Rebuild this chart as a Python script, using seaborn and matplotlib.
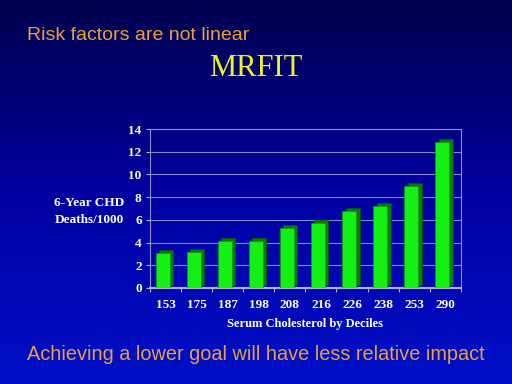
import numpy as np
import pandas as pd
import matplotlib
matplotlib.use("Agg")
import matplotlib.pyplot as plt
from matplotlib.transforms import Affine2D
from matplotlib.colors import LinearSegmentedColormap
import seaborn as sns

deciles = ["153", "175", "187", "198", "208", "216", "226", "238", "253", "290"]
deaths = [3.1, 3.2, 4.1, 4.1, 5.3, 5.7, 6.8, 7.2, 9.0, 12.9]
yticks = [0, 2, 4, 6, 8, 10, 12, 14]

df = pd.DataFrame({"decile": deciles, "deaths": deaths})

sns.set_theme(style="white")
plt.rcParams["font.family"] = ["Liberation Serif", "DejaVu Serif"]

fig = plt.figure(figsize=(5.12, 3.84), dpi=100)

# gradient background
bg = fig.add_axes([0, 0, 1, 1], zorder=-10)
grad = np.linspace(0, 1, 256).reshape(-1, 1)
cmap = LinearSegmentedColormap.from_list("bg", ["#00004e", "#0000a0", "#0010c8"])
bg.imshow(grad, aspect="auto", cmap=cmap, extent=[0, 1, 0, 1], origin="upper")
bg.set_axis_off()

ax = fig.add_axes([0.293, 0.25, 0.607, 0.414])
ax.set_facecolor("none")

# shadow (3D side) bars
sns.barplot(data=df, x="decile", y="deaths", color="#0a7a0a", width=0.45,
            saturation=1, ax=ax, zorder=3)
n_shadow = len(ax.patches)
for p in ax.patches:
    p.set_transform(ax.transData + Affine2D().translate(0.5, 3))
    p.set_edgecolor("#055505")
    p.set_linewidth(0.5)
# front bars
sns.barplot(data=df, x="decile", y="deaths", color="#14f014", width=0.45,
            saturation=1, ax=ax, zorder=4)
for p in ax.patches[n_shadow:]:
    p.set_transform(ax.transData + Affine2D().translate(-3, 0))
    p.set_edgecolor("#0a9a0a")
    p.set_linewidth(0.5)

ax.set_xlim(-0.5, 9.5)
ax.set_ylim(0, 14)
ax.set_yticks(yticks)
ax.set_yticklabels([str(v) for v in yticks])
ax.yaxis.grid(True, color="#8888c8", linewidth=0.8, zorder=0)
ax.set_axisbelow(True)
for s in ax.spines.values():
    s.set_visible(True)
    s.set_color("#9090c8")
    s.set_linewidth(0.8)
ax.spines["bottom"].set_color("#b0b0c8")
ax.spines["bottom"].set_linewidth(1.5)

ax.set_xticks(np.arange(-0.5, 10, 1.0), minor=True)
ax.tick_params(axis="x", which="major", length=0, pad=8, labelcolor="white",
               labelsize=9.5, bottom=False)
ax.tick_params(axis="x", which="minor", length=3, color="#b0b0c8",
               direction="out", bottom=True, width=0.8)
ax.tick_params(axis="y", length=3, color="#b0b0c8", direction="out", left=True,
               labelcolor="white", labelsize=9.5, pad=3, width=0.8)
for lab in ax.get_xticklabels() + ax.get_yticklabels():
    lab.set_fontweight("bold")

ax.set_xlabel("Serum Cholesterol by Deciles", color="white", fontsize=9,
              fontweight="bold", labelpad=5)
ax.set_ylabel("")

fig.text(0.174, 0.449, "6-Year CHD\nDeaths/1000", color="white", fontsize=9.5,
         fontweight="bold", ha="center", va="center", linespacing=1.5)

fig.text(0.053, 0.908, "Risk factors are not linear", color="#e8a040",
         fontsize=14, family=["Liberation Sans", "DejaVu Sans"], ha="left", va="center")
fig.text(0.5, 0.822, "MRFIT", color="#f0f020", fontsize=22, ha="center", va="center")
fig.text(0.053, 0.077, "Achieving a lower goal will have less relative impact",
         color="#e8a040", fontsize=14.3, family=["Liberation Sans", "DejaVu Sans"],
         ha="left", va="center")

fig.savefig("out.png", dpi=100)
